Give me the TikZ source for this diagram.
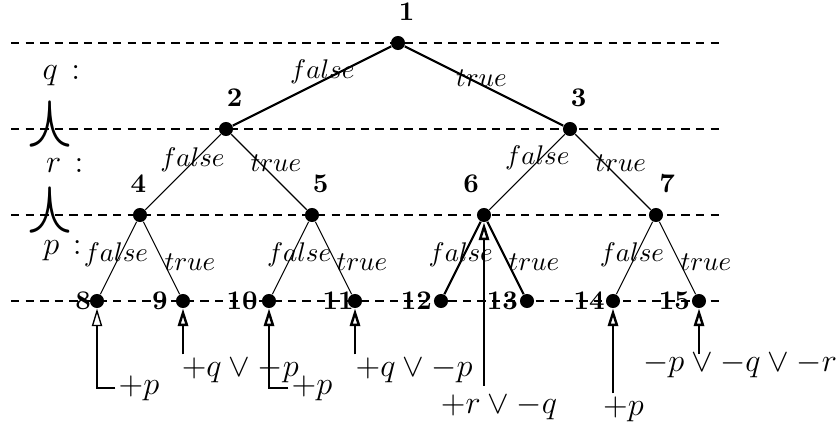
\documentclass[tikz,border=0pt]{standalone}
\usepackage{amsmath,amssymb}
\usetikzlibrary{arrows.meta,positioning}

\begin{document}
\begin{tikzpicture}[x=1.12cm,y=1.12cm,
  dot/.style={circle,fill=black,inner sep=0pt,minimum size=5.2pt},
  level/.style={line width=0.7pt,dash pattern=on 3.1pt off 2.3pt},
  branch/.style={line width=0.4pt},
  heavy/.style={line width=0.8pt},
  lab/.style={inner sep=1pt},
  clause/.style={inner sep=1pt,font=\large},
  num/.style={font=\bfseries,inner sep=1pt},
  pointer/.style={-{Triangle[open,length=6.5pt,width=3.8pt]},line width=0.9pt}]
  \useasboundingbox (-0.128,-1.453) rectangle (9.628,3.5);
  % dashed levels
  \foreach \y in {0,...,3} {
    \draw[level] (0,\y) -- (8.27,\y);
  }
  % variables and conjunctions on the left
  \node[clause,anchor=west] (vq) at (0.33,2.62) {$q$\hspace{5pt}:};
  \node[clause,anchor=west] (vr) at (0.37,1.57) {$r$\hspace{5pt}:};
  \node[clause,anchor=west] (vp) at (0.34,0.58) {$p$\hspace{5pt}:};
  \node[inner sep=0pt,font=\Huge,transform shape,yscale=1.15] (and1) at (0.45,2.05) {$\curlywedge$};
  \node[inner sep=0pt,font=\Huge,transform shape,yscale=1.15] (and2) at (0.45,1.06) {$\curlywedge$};
  % inner nodes
  \foreach \n/\x/\y/\dx in {1/4.5/3/3.2pt, 2/2.5/2/3.2pt, 3/6.5/2/3.2pt,
    4/1.5/1/-0.6pt, 5/3.5/1/3.2pt, 6/5.5/1/-4.8pt, 7/7.5/1/4.1pt} {
    \node[dot,label={[num,xshift=\dx,yshift=4.3pt]above:\n}] (n\n) at (\x,\y) {};
  }
  % leaves
  \foreach \n/\dx in {8/1.7pt, 9/-1.7pt, 10/-0.2pt, 11/3.5pt,
    12/0.6pt, 13/0.6pt, 14/0.9pt, 15/0.6pt} {
    \node[dot,label={[num,xshift=\dx]left:\n}] (n\n) at (\n-7,0) {};
  }
  % branches
  \draw[heavy] (n1) -- node[lab,shift={(0.12,0.16)}] {$false$} (n2);
  \draw[heavy] (n1) -- node[lab,shift={(-0.03,0.09)}] {$true$} (n3);
  \draw[branch] (n2) -- node[lab,shift={(0.11,0.14)}] {$false$} (n4);
  \draw[branch] (n2) -- node[lab,shift={(0.08,0.10)}] {$true$} (n5);
  \draw[branch] (n3) -- node[lab,shift={(0.12,0.16)}] {$false$} (n6);
  \draw[branch] (n3) -- node[lab,shift={(0.09,0.10)}] {$true$} (n7);
  \foreach \p/\l/\r/\w/\fx in {4/8/9/branch/-0.03, 5/10/11/branch/0.10,
    6/12/13/heavy/-0.02, 7/14/15/branch/-0.03} {
    \draw[\w] (n\p) -- node[lab,shift={(\fx,0.035)}] {$false$} (n\l);
    \draw[\w] (n\p) -- node[lab,shift={(0.33,-0.05)}] {$true$} (n\r);
  }
  % falsified clauses
  \node[clause,anchor=west] (t8) at (1.215,-1.012) {$+p$};
  \node[clause,anchor=north west] (t9) at (1.948,-0.62) {$+q\vee -p$};
  \node[clause,anchor=west] (t10) at (3.226,-1.012) {$+p$};
  \node[clause,anchor=north west] (t11) at (3.97,-0.62) {$+q\vee -p$};
  \node[clause] (t6) at (5.674,-1.233) {$+r\vee -q$};
  \node[clause] (t14) at (7.122,-1.256) {$+p$};
  \node[clause] (t15) at (8.477,-0.744) {$-p\vee -q\vee -r$};
  \draw[pointer,line width=0.5pt] (t8.west) -| (n8);
  \draw[pointer] (t9.north -| n9) -- (n9);
  \draw[pointer] (t10.west) -| (n10);
  \draw[pointer] (t11.north -| n11) -- (n11);
  \draw[pointer,shorten <=2pt] (t6.north -| n6) -- (n6);
  \draw[pointer] (t14.north -| n14) -- (n14);
  \draw[pointer,shorten <=-1.8pt] (t15.north -| n15) -- (n15);
\end{tikzpicture}
\end{document}
